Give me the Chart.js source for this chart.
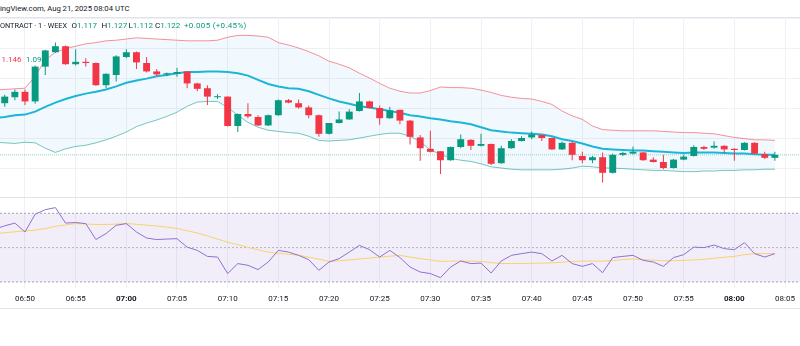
<!DOCTYPE html>
<html>
<head>
<meta charset="utf-8">
<title>WEEX 1m</title>
<script src="https://cdn.jsdelivr.net/npm/chart.js"></script>
<style>
  body { margin: 0; width: 800px; height: 346px; background: #fff; position: relative; overflow: hidden;
         font-family: Roboto, "Noto Sans", sans-serif; color: #131722; }
  .txt { position: absolute; font-size: 8px; line-height: 10px; white-space: nowrap; z-index: 5; }
  .up { color: #089981; }
  .down { color: #f23645; }
  .rule { position: absolute; left: 0; width: 800px; height: 1px; background: #e0e3eb; }
  canvas { position: absolute; left: 0; }
</style>
</head>
<body>
  <div class="txt" style="left:0; top:4px; font-size:7.7px;">ingView.com, Aug 21, 2025 08:04 UTC</div>
  <div class="rule" style="top:17px"></div>
  <canvas id="price" width="800" height="180" style="top:17px"></canvas>
  <div class="rule" style="top:197px"></div>
  <canvas id="rsi" width="800" height="111" style="top:198px"></canvas>
  <div class="rule" style="top:308px"></div>

  <div class="txt" style="left:0; top:21px; font-size:7.3px;">ONTRACT · 1 · WEEX</div>
  <div class="txt" style="left:71.5px; top:21px;">O<span class="up" id="lgO"></span></div>
  <div class="txt" style="left:101.5px; top:21px;">H<span class="up" id="lgH"></span></div>
  <div class="txt" style="left:128.5px; top:21px;">L<span class="up" id="lgL"></span></div>
  <div class="txt" style="left:155px; top:21px;">C<span class="up" id="lgC"></span></div>
  <div class="txt up" style="left:184px; top:21px; letter-spacing:0.3px;" id="lgChg"></div>
  <div class="txt down" style="left:1.5px; top:55px;" id="lgUpper"></div>
  <div class="txt up" style="left:26px; top:55px;" id="lgLower"></div>

<script>
  // 1-minute bars, first bar at 06:48
  var firstBar = "06:48";
  var opens = [1.208, 1.218, 1.227, 1.211, 1.269, 1.293, 1.303, 1.273, 1.277, 1.275, 1.238, 1.255, 1.285, 1.293,
    1.275, 1.261, 1.256, 1.257, 1.261, 1.241, 1.233, 1.218, 1.219, 1.170, 1.190, 1.185, 1.171, 1.188, 1.213, 1.208,
    1.201, 1.188, 1.157, 1.175, 1.181, 1.195, 1.211, 1.200, 1.183, 1.197, 1.179, 1.151, 1.132, 1.128, 1.113, 1.135,
    1.147, 1.137, 1.140, 1.108, 1.133, 1.145, 1.151, 1.155, 1.150, 1.131, 1.142, 1.120, 1.113, 1.118, 1.092, 1.122,
    1.124, 1.126, 1.114, 1.110, 1.100, 1.114, 1.120, 1.135, 1.134, 1.137, 1.132, 1.130, 1.142, 1.123, 1.117];
  var highs = [1.222, 1.231, 1.231, 1.271, 1.297, 1.309, 1.304, 1.298, 1.283, 1.276, 1.258, 1.288, 1.298, 1.294,
    1.285, 1.265, 1.259, 1.267, 1.261, 1.242, 1.238, 1.223, 1.219, 1.191, 1.208, 1.188, 1.189, 1.214, 1.215, 1.214,
    1.204, 1.189, 1.175, 1.194, 1.198, 1.225, 1.212, 1.204, 1.202, 1.197, 1.180, 1.155, 1.162, 1.128, 1.136, 1.156,
    1.148, 1.157, 1.141, 1.137, 1.148, 1.153, 1.161, 1.156, 1.151, 1.144, 1.144, 1.127, 1.120, 1.126, 1.124, 1.127,
    1.136, 1.127, 1.118, 1.122, 1.115, 1.122, 1.138, 1.137, 1.144, 1.138, 1.133, 1.143, 1.143, 1.127, 1.127];
  var lows = [1.202, 1.213, 1.205, 1.207, 1.255, 1.292, 1.272, 1.271, 1.269, 1.237, 1.233, 1.244, 1.283, 1.265,
    1.259, 1.253, 1.253, 1.252, 1.233, 1.228, 1.205, 1.215, 1.169, 1.160, 1.183, 1.170, 1.170, 1.187, 1.208, 1.199,
    1.183, 1.152, 1.156, 1.174, 1.180, 1.194, 1.199, 1.172, 1.182, 1.173, 1.139, 1.112, 1.126, 1.090, 1.112, 1.133,
    1.130, 1.136, 1.105, 1.107, 1.132, 1.144, 1.148, 1.145, 1.130, 1.130, 1.113, 1.108, 1.108, 1.076, 1.091, 1.120,
    1.123, 1.112, 1.109, 1.098, 1.099, 1.113, 1.119, 1.130, 1.132, 1.125, 1.112, 1.129, 1.123, 1.115, 1.112];
  var closes = [1.219, 1.227, 1.211, 1.269, 1.296, 1.303, 1.273, 1.277, 1.275, 1.238, 1.257, 1.286, 1.293, 1.276,
    1.261, 1.256, 1.258, 1.260, 1.241, 1.232, 1.219, 1.219, 1.170, 1.190, 1.186, 1.171, 1.188, 1.213, 1.209, 1.201,
    1.188, 1.157, 1.175, 1.181, 1.194, 1.211, 1.200, 1.183, 1.196, 1.179, 1.152, 1.133, 1.127, 1.113, 1.135, 1.148,
    1.137, 1.140, 1.107, 1.133, 1.145, 1.150, 1.156, 1.150, 1.131, 1.142, 1.122, 1.113, 1.118, 1.092, 1.122, 1.125,
    1.127, 1.113, 1.110, 1.100, 1.114, 1.119, 1.135, 1.132, 1.137, 1.131, 1.130, 1.142, 1.124, 1.117, 1.122];

  // indicator series start one bar before the first candle
  var bbUpper = [1.230, 1.231, 1.232, 1.233, 1.253, 1.280, 1.293, 1.299, 1.303, 1.307, 1.309, 1.312, 1.313, 1.315,
    1.317, 1.316, 1.315, 1.314, 1.313, 1.312, 1.312, 1.312, 1.313, 1.318, 1.321, 1.321, 1.320, 1.318, 1.309, 1.305,
    1.300, 1.294, 1.287, 1.278, 1.273, 1.267, 1.258, 1.250, 1.241, 1.233, 1.228, 1.225, 1.225, 1.229, 1.235, 1.234,
    1.234, 1.233, 1.230, 1.226, 1.221, 1.218, 1.216, 1.215, 1.211, 1.206, 1.195, 1.187, 1.181, 1.170, 1.164, 1.163,
    1.162, 1.162, 1.162, 1.162, 1.161, 1.160, 1.159, 1.159, 1.158, 1.157, 1.154, 1.151, 1.149, 1.147, 1.147, 1.146];
  var bbBasis = [1.183, 1.185, 1.188, 1.189, 1.194, 1.202, 1.209, 1.215, 1.220, 1.224, 1.227, 1.231, 1.236, 1.242,
    1.246, 1.249, 1.253, 1.255, 1.258, 1.260, 1.260, 1.261, 1.261, 1.260, 1.258, 1.254, 1.247, 1.240, 1.236, 1.233,
    1.232, 1.228, 1.222, 1.216, 1.211, 1.207, 1.203, 1.201, 1.198, 1.195, 1.192, 1.188, 1.186, 1.183, 1.181, 1.178,
    1.176, 1.173, 1.168, 1.163, 1.161, 1.159, 1.158, 1.157, 1.156, 1.153, 1.148, 1.145, 1.141, 1.136, 1.132, 1.131,
    1.130, 1.129, 1.129, 1.128, 1.127, 1.126, 1.125, 1.126, 1.126, 1.126, 1.125, 1.124, 1.124, 1.123, 1.122, 1.122];
  var bbLower = [1.143, 1.142, 1.141, 1.143, 1.142, 1.133, 1.126, 1.132, 1.136, 1.138, 1.142, 1.147, 1.153, 1.160,
    1.169, 1.175, 1.180, 1.186, 1.193, 1.203, 1.210, 1.211, 1.211, 1.201, 1.188, 1.176, 1.168, 1.163, 1.161, 1.159,
    1.158, 1.153, 1.146, 1.145, 1.146, 1.147, 1.150, 1.153, 1.156, 1.158, 1.158, 1.153, 1.144, 1.130, 1.123, 1.116,
    1.113, 1.111, 1.107, 1.102, 1.100, 1.098, 1.097, 1.097, 1.097, 1.097, 1.098, 1.100, 1.103, 1.102, 1.100, 1.100,
    1.099, 1.098, 1.097, 1.096, 1.096, 1.095, 1.094, 1.094, 1.095, 1.095, 1.096, 1.096, 1.097, 1.097, 1.098, 1.098];
  var rsi = [60.7, 62.7, 64.3, 59.1, 69.4, 72.1, 73.3, 64.3, 64.6, 64.0, 54.7, 58.2, 63.0, 64.0, 59.1, 55.6, 54.7,
    55.0, 55.2, 50.3, 48.4, 44.9, 44.5, 34.9, 40.7, 39.7, 37.2, 41.6, 48.4, 47.4, 45.5, 43.0, 36.8, 41.6, 43.6, 47.4,
    51.3, 48.8, 44.5, 48.4, 44.2, 38.7, 35.8, 34.9, 32.5, 38.7, 42.2, 40.7, 41.0, 35.2, 42.2, 45.5, 46.5, 47.4, 46.5,
    42.2, 45.5, 40.7, 39.1, 40.7, 35.4, 44.2, 44.9, 45.5, 42.6, 41.6, 39.1, 44.2, 45.9, 50.3, 50.0, 51.5, 49.4, 48.8,
    52.9, 46.5, 44.5, 46.5];
  var rsiMa = [58.0, 58.7, 59.2, 59.7, 60.2, 61.1, 62.4, 63.2, 64.0, 63.7, 63.5, 63.5, 63.7, 64.0, 63.6, 63.1, 62.6,
    61.9, 61.2, 59.8, 58.5, 56.8, 55.0, 53.1, 51.7, 50.2, 48.7, 47.4, 46.7, 46.1, 45.6, 44.4, 43.3, 42.0, 42.3, 42.8,
    43.4, 43.9, 44.5, 45.0, 45.5, 44.5, 43.6, 42.8, 42.0, 42.1, 42.2, 42.1, 42.0, 41.3, 40.7, 40.7, 40.7, 40.9, 41.0,
    41.1, 41.5, 41.9, 42.2, 42.1, 42.1, 42.5, 43.0, 43.4, 43.0, 42.7, 42.3, 42.4, 42.6, 42.8, 43.2, 43.8, 44.4, 44.9,
    45.9, 46.5, 46.5, 46.5];
  var rsiLevels = [70, 50, 30];
  var timeTicks = ["06:50", "06:55", "07:00", "07:05", "07:10", "07:15", "07:20", "07:25", "07:30", "07:35",
    "07:40", "07:45", "07:50", "07:55", "08:00", "08:05"];

  var UP = "#089981", DOWN = "#f23645";

  function toMin(t) {
    var p = t.split(":");
    return parseInt(p[0], 10) * 60 + parseInt(p[1], 10);
  }
  function fmtMin(m) {
    var h = Math.floor(m / 60), mm = m % 60;
    return (h < 10 ? "0" : "") + h + ":" + (mm < 10 ? "0" : "") + mm;
  }

  var start = toMin(firstBar);
  var xMin = start - 0.467;
  var xMax = start + 78.48;
  var tickValues = timeTicks.map(toMin);

  var barColor = opens.map(function (o, i) { return closes[i] >= o ? UP : DOWN; });
  var bodies = opens.map(function (o, i) { return { x: start + i, y: [o, closes[i]] }; });
  var wicks = lows.map(function (l, i) { return { x: start + i, y: [l, highs[i]] }; });
  function series(arr) {
    return arr.map(function (v, i) { return { x: start - 1 + i, y: v }; });
  }
  function level(v) {
    return [{ x: xMin, y: v }, { x: xMax, y: v }];
  }

  // legend values come from the last bar and the last band values
  var n = closes.length - 1;
  var chg = closes[n] - closes[n - 1];
  document.getElementById("lgO").textContent = opens[n].toFixed(3);
  document.getElementById("lgH").textContent = highs[n].toFixed(3);
  document.getElementById("lgL").textContent = lows[n].toFixed(3);
  document.getElementById("lgC").textContent = closes[n].toFixed(3);
  document.getElementById("lgChg").textContent =
    (chg >= 0 ? "+" : "") + chg.toFixed(3) + " (" + (chg >= 0 ? "+" : "") + (chg / closes[n - 1] * 100).toFixed(2) + "%)";
  document.getElementById("lgUpper").textContent = bbUpper[bbUpper.length - 1].toFixed(3);
  document.getElementById("lgLower").textContent = bbLower[bbLower.length - 1].toFixed(3);

  var gridColor = "#eff1f5";

  function xScale(showLabels) {
    return {
      type: "linear",
      min: xMin,
      max: xMax,
      offset: false,
      afterBuildTicks: function (axis) {
        axis.ticks = tickValues.map(function (v) { return { value: v }; });
      },
      afterFit: function (axis) { axis.height = showLabels ? 20 : 0; },
      grid: { color: gridColor, drawTicks: false, offset: false },
      border: { display: false },
      ticks: {
        display: showLabels,
        autoSkip: false,
        maxRotation: 0,
        padding: 5,
        color: "#131722",
        font: function (ctx) {
          var bold = ctx.tick && ctx.tick.value % 60 === 0;
          return { family: "Roboto", size: 8, weight: bold ? "bold" : "normal" };
        },
        callback: function (v) { return fmtMin(v); }
      }
    };
  }

  new Chart(document.getElementById("price").getContext("2d"), {
    type: "bar",
    data: {
      datasets: [
        {
          label: "body",
          data: bodies,
          backgroundColor: barColor,
          grouped: false,
          categoryPercentage: 1,
          barPercentage: 0.68,
          minBarLength: 1,
          order: 0
        },
        {
          label: "wick",
          data: wicks,
          backgroundColor: barColor,
          grouped: false,
          maxBarThickness: 1,
          order: 1
        },
        {
          type: "line",
          label: "basis",
          data: series(bbBasis),
          borderColor: "#1cb5d8",
          borderWidth: 2,
          pointRadius: 0,
          tension: 0,
          order: 2
        },
        {
          type: "line",
          label: "upper",
          data: series(bbUpper),
          borderColor: "rgba(242,54,69,0.55)",
          borderWidth: 1,
          pointRadius: 0,
          tension: 0,
          fill: "+1",
          backgroundColor: "rgba(33,150,243,0.06)",
          order: 3
        },
        {
          type: "line",
          label: "lower",
          data: series(bbLower),
          borderColor: "rgba(8,153,129,0.55)",
          borderWidth: 1,
          pointRadius: 0,
          tension: 0,
          order: 4
        },
        {
          type: "line",
          label: "last",
          data: level(closes[n]),
          borderColor: "rgba(8,153,129,0.45)",
          borderWidth: 1,
          borderDash: [1, 1],
          pointRadius: 0,
          order: 5
        }
      ]
    },
    options: {
      responsive: false,
      animation: false,
      events: [],
      layout: { padding: 0 },
      plugins: { legend: { display: false }, tooltip: { enabled: false } },
      scales: {
        x: xScale(false),
        y: {
          type: "linear",
          position: "right",
          min: 1.0517,
          max: 1.3517,
          afterBuildTicks: function (axis) {
            axis.ticks = [1.10, 1.15, 1.20, 1.25, 1.30, 1.35].map(function (v) { return { value: v }; });
          },
          afterFit: function (axis) { axis.width = 0; },
          grid: { color: gridColor, drawTicks: false },
          border: { display: false },
          ticks: { display: false }
        }
      }
    }
  });

  new Chart(document.getElementById("rsi").getContext("2d"), {
    type: "line",
    data: {
      datasets: [
        {
          label: "RSI",
          data: series(rsi),
          borderColor: "#8f70d1",
          borderWidth: 1,
          pointRadius: 0,
          tension: 0,
          order: 0
        },
        {
          label: "RSI MA",
          data: series(rsiMa),
          borderColor: "#f6d36b",
          borderWidth: 1,
          pointRadius: 0,
          tension: 0,
          order: 1
        },
        {
          label: "upper band",
          data: level(rsiLevels[0]),
          borderColor: "#a3a6af",
          borderWidth: 1,
          borderDash: [2, 2],
          pointRadius: 0,
          fill: "+2",
          backgroundColor: "rgba(126,87,194,0.1)",
          order: 2
        },
        {
          label: "middle band",
          data: level(rsiLevels[1]),
          borderColor: "#b8bac1",
          borderWidth: 1,
          borderDash: [2, 2],
          pointRadius: 0,
          order: 3
        },
        {
          label: "lower band",
          data: level(rsiLevels[2]),
          borderColor: "#a3a6af",
          borderWidth: 1,
          borderDash: [2, 2],
          pointRadius: 0,
          order: 4
        }
      ]
    },
    options: {
      responsive: false,
      animation: false,
      events: [],
      layout: { padding: 0 },
      plugins: { legend: { display: false }, tooltip: { enabled: false } },
      scales: {
        x: xScale(true),
        y: {
          type: "linear",
          position: "right",
          min: 25.9,
          max: 78.9,
          afterFit: function (axis) { axis.width = 0; },
          grid: { display: false },
          border: { display: false },
          ticks: { display: false }
        }
      }
    }
  });
</script>
</body>
</html>
